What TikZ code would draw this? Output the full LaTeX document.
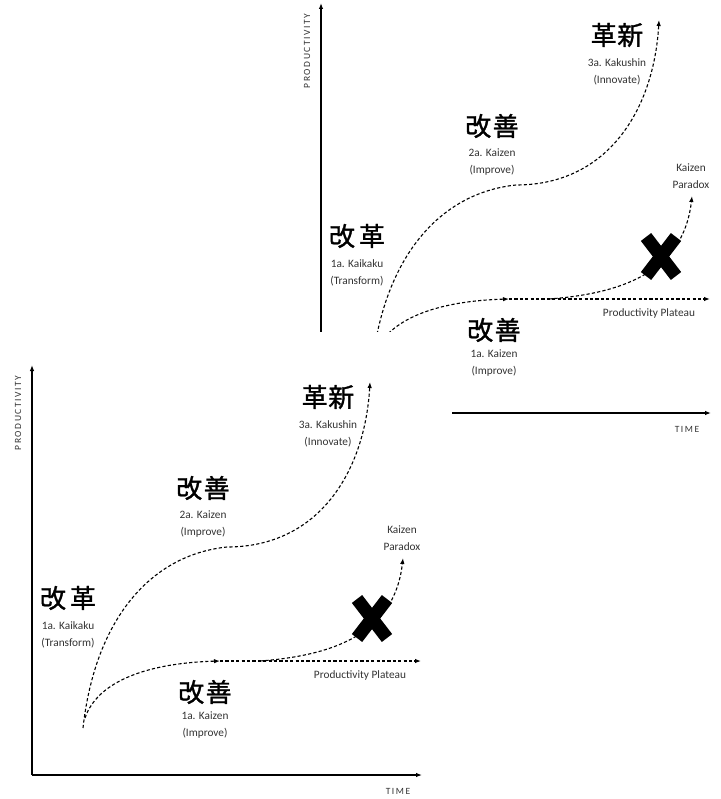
\documentclass[tikz,border=0pt]{standalone}
\usepackage{fontspec}
\setmainfont{Carlito}
\newfontfamily\cjk[FakeBold=1.2]{Noto Sans CJK JP}
\newfontfamily\axfont[LetterSpace=16]{Carlito}
\usetikzlibrary{arrows.meta}
\tikzset{
  dashline/.style={line width=1.1pt, dash pattern=on 3.2pt off 2.2pt, -{Latex[length=6pt,width=4.5pt]}},
  axisline/.style={line width=1.1pt, -{Latex[length=6pt,width=4.5pt]}},
  kanji/.style={font=\cjk\fontsize{26}{28}\selectfont, inner sep=0pt},
  lbl/.style={font=\fontsize{11.3}{17.5}\selectfont, align=center, inner sep=0pt, text=black!80},
  axlbl/.style={font=\axfont\fontsize{9.5}{10}\selectfont, inner sep=0pt, text=black!80},
  xmark/.style={line width=13pt, black},
  chart/.pic={
    \coordinate (-o) at (32,775);
    \coordinate (-ytop) at (32,365);
    \coordinate (-xend) at (422,775);
    \draw[axisline] (-o) -- (-ytop);
    \draw[axisline] (-o) -- (-xend);
    \node[axlbl, rotate=90] (-ylab) at (18,413) {PRODUCTIVITY};
    \node[axlbl] (-xlab) at (398,791) {TIME};
    % main S-curve
    \coordinate (-s) at (83,728);
    \coordinate (-m) at (227,547);
    \coordinate (-t) at (370,382);
    \draw[dashline] (-s) .. controls (95,620) and (150,555) .. (-m)
                         .. controls (320,547) and (365,470) .. (-t);
    % lower kaizen curve and plateau
    \coordinate (-s2) at (85,718);
    \coordinate (-p) at (220,661);
    \coordinate (-pend) at (421,661);
    \draw[dashline] (-s2) .. controls (98,680) and (150,663) .. (-p);
    \draw[dashline] (-p) -- (-pend);
    % kaizen paradox curve
    \coordinate (-q) at (260,661);
    \coordinate (-kp) at (403,558);
    \draw[dashline] (-q) .. controls (340,655) and (395,630) .. (-kp);
    % X mark
    \coordinate (-xa) at (357,599);
    \coordinate (-xb) at (387,638);
    \coordinate (-xc) at (387,599);
    \coordinate (-xd) at (357,638);
    \draw[xmark] (-xa) -- (-xb);
    \draw[xmark] (-xc) -- (-xd);
    % labels
    \node[kanji] (-k3) at (328,397) {革\hspace{0.02em}新};
    \node[lbl] (-l3) at (328,434) {3a. Kakushin\\(Innovate)};
    \node[kanji] (-k2) at (203,488) {改\hspace{0.06em}善};
    \node[lbl] (-l2) at (203,524) {2a. Kaizen\\(Improve)};
    \node[kanji] (-k1) at (68,598) {改\hspace{0.15em}革};
    \node[lbl] (-l1) at (68,635) {1a. Kaikaku\\(Transform)};
    \node[kanji] (-k0) at (205,692) {改\hspace{0.06em}善};
    \node[lbl] (-l0) at (205,725) {1a. Kaizen\\(Improve)};
    \node[lbl] (-plat) at (360,675) {Productivity Plateau};
    \node[lbl] (-para) at (402,538) {Kaizen\\Paradox};
  }
}
\begin{document}
\begin{tikzpicture}[x=1pt,y=-1pt]
  \useasboundingbox (0,0) rectangle (720,799);
  \fill[white] (0,0) rectangle (720,799);
  \pic (R) at (289,-362) {chart};
  \fill[white] (0,332) rectangle (452,799);
  \pic (L) at (0,0) {chart};
\end{tikzpicture}
\end{document}
